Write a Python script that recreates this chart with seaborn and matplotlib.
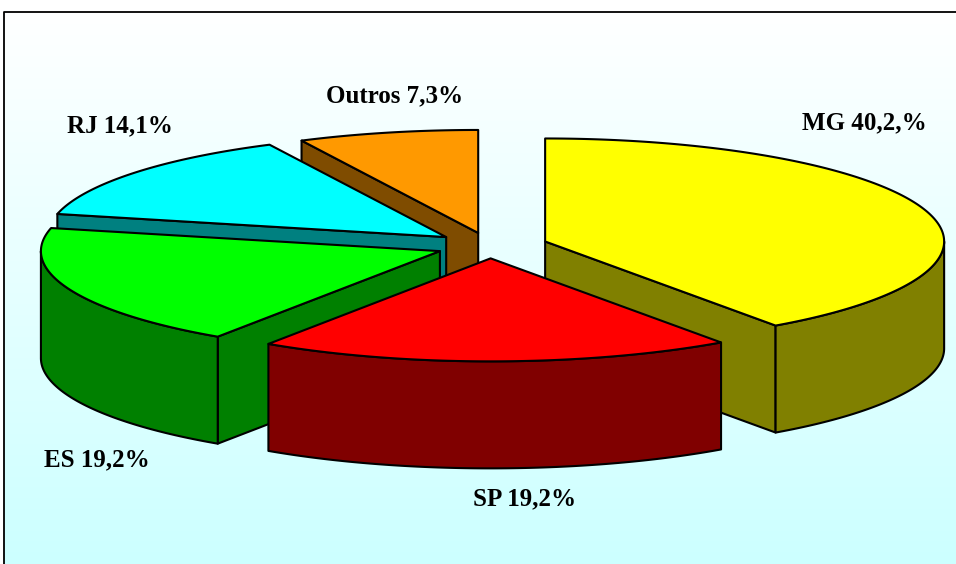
import numpy as np
import matplotlib
matplotlib.use("Agg")
import matplotlib.pyplot as plt
from matplotlib.patches import Polygon
import seaborn as sns

# ---- data ----
categories = ["MG", "SP", "ES", "RJ", "Outros"]
shares = [40.2, 19.2, 19.2, 14.1, 7.3]
label_texts = ["MG 40,2,%", "SP 19,2%", "ES 19,2%", "RJ 14,1%", "Outros 7,3%"]

# ---- style ----
top_colors = ["#FFFF00", "#FF0000", "#00FF00", "#00FFFF", "#FF9900"]
side_colors = ["#808000", "#800000", "#008000", "#008080", "#7F4C00"]
explode = [0.145, 0.12, 0.135, 0.14, 0.13]
label_pos = [(864, 123), (525, 499), (97, 460), (120, 126), (395, 96)]

sns.set_theme(style="white")
plt.rcParams["font.family"] = ["Liberation Serif", "DejaVu Serif"]
top_pal = sns.color_palette(top_colors)
side_pal = sns.color_palette(side_colors)

W, H = 956, 564
fig = plt.figure(figsize=(W / 100, H / 100), dpi=100)
fig.patch.set_facecolor("white")
ax = fig.add_axes([0, 0, 1, 1])
ax.set_xlim(0, W)
ax.set_ylim(H, 0)
ax.axis("off")

# background gradient inside frame
grad = np.linspace(0, 1, 256).reshape(-1, 1)
c0 = np.array([1.0, 1.0, 1.0])
c1 = np.array([0.80, 1.0, 1.0])
img = c0 + (c1 - c0) * grad[:, :, None]
ax.imshow(img, extent=[4, W, H, 12], aspect="auto", zorder=0)
ax.plot([4, 4, W], [H, 12, 12], color="black", lw=1.3, zorder=1,
        solid_capstyle="butt")

# pie geometry (pixel coordinates)
cx, cy = 490.0, 246.0
rx, ry = 399.0, 103.0
depth = 107.0

vals = np.array(shares, dtype=float)
fr = vals / vals.sum()
starts = np.concatenate([[0.0], np.cumsum(fr)[:-1]]) * 360.0
ends = np.cumsum(fr) * 360.0

def rim(ox, oy, phi):
    p = np.radians(phi)
    return ox + rx * np.sin(p), oy - ry * np.cos(p)

slices = []
for i in range(len(vals)):
    mid = (starts[i] + ends[i]) / 2
    m = np.radians(mid)
    ox = cx + explode[i] * rx * np.sin(m)
    oy = cy - explode[i] * ry * np.cos(m)
    slices.append((-np.cos(m), i, ox, oy))

slices.sort()
z = 2
lw = 1.5
for _, i, ox, oy in slices:
    a, b = starts[i], ends[i]
    faces = []
    if np.sin(np.radians(a)) < -1e-6:
        x1, y1 = rim(ox, oy, a)
        faces.append([(ox, oy), (x1, y1), (x1, y1 + depth), (ox, oy + depth)])
    if np.sin(np.radians(b)) > 1e-6:
        x1, y1 = rim(ox, oy, b)
        faces.append([(ox, oy), (x1, y1), (x1, y1 + depth), (ox, oy + depth)])
    lo, hi = max(a, 90.0), min(b, 270.0)
    if hi > lo:
        ph = np.linspace(lo, hi, 120)
        xs, ys = rim(ox, oy, ph)
        pts = list(zip(xs, ys)) + list(zip(xs[::-1], ys[::-1] + depth))
        faces.append(pts)
    for f in faces:
        ax.add_patch(Polygon(f, closed=True, facecolor=side_pal[i], edgecolor="black",
                             lw=lw, joinstyle="round", zorder=z))
        z += 1
    ph = np.linspace(a, b, 200)
    xs, ys = rim(ox, oy, ph)
    top = [(ox, oy)] + list(zip(xs, ys))
    ax.add_patch(Polygon(top, closed=True, facecolor=top_pal[i], edgecolor="black",
                         lw=lw, joinstyle="round", zorder=z))
    z += 1

for txt, (lx, ly) in zip(label_texts, label_pos):
    ax.text(lx, ly, txt, ha="center", va="center", fontsize=18, fontweight="bold",
            color="black", zorder=z + 1)

fig.savefig("out.png", dpi=100, facecolor="white")
